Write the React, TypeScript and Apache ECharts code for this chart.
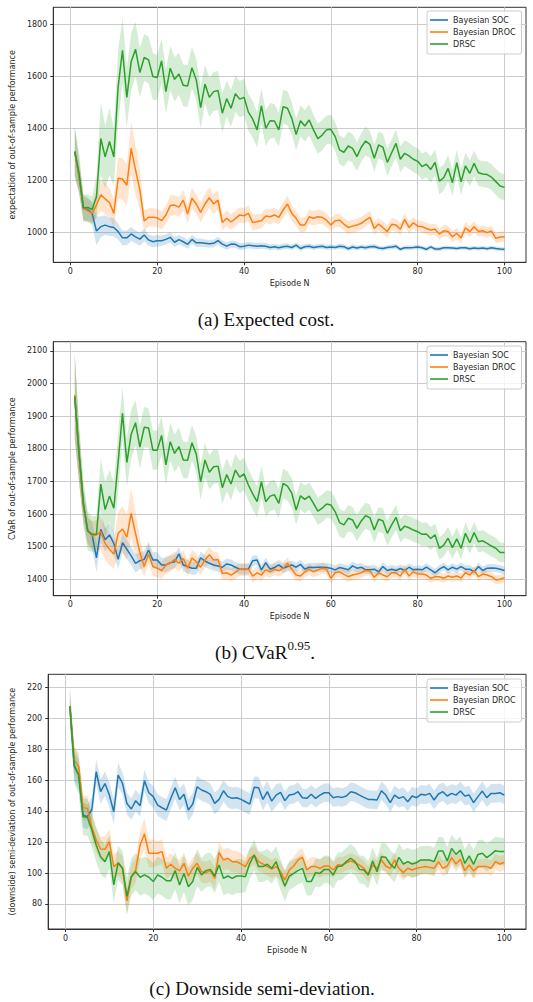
import React, { useEffect, useRef } from 'react';
import * as echarts from 'echarts';

const episodes = Array.from({ length: 100 }, (_, i) => i + 1);
const seriesNames = ['Bayesian SOC', 'Bayesian DROC', 'DRSC'];
const xTicks = [0, 20, 40, 60, 80, 100];

// (a) expected cost
const expTicks = [1000, 1200, 1400, 1600, 1800];
const expSoc = [1310,1215,1092,1088,1073,1005,1022,1028,1022,1019, 1003,979,979,994,983,974,990,971,964,968, 968,973,981,962,972,964,954,973,960,960, 958,956,958,968,955,947,955,954,945,947, 951,949,947,949,947,942,945,941,945,947, 942,951,938,945,947,942,945,947,942,944, 942,947,945,937,944,940,944,941,945,946, 940,938,942,944,947,935,941,941,942,944, 941,935,944,936,936,941,941,940,938,941, 941,937,940,938,940,937,941,938,936,935];
const expDroc = [1310,1214,1092,1083,1073,1105,1144,1129,1115,1073, 1208,1205,1181,1323,1240,1163,1044,1058,1058,1056, 1045,1067,1103,1105,1097,1124,1071,1131,1109,1077, 1109,1133,1109,1124,1038,1054,1040,1053,1067,1064, 1073,1038,1041,1045,1063,1060,1067,1058,1086,1109, 1073,1054,1028,1028,1060,1054,1060,1058,1047,1028, 1045,1047,1032,1019,1024,1028,1035,1047,1058,1015, 1032,1018,1003,1031,1028,1012,1050,1019,1037,1024, 1022,1015,1009,1012,994,1006,1003,983,996,979, 1018,1003,1022,1003,1006,999,1005,977,982,983];
const expDrsc = [1310,1227,1095,1096,1088,1137,1361,1290,1349,1290, 1560,1700,1519,1656,1704,1614,1672,1663,1599,1595, 1659,1541,1631,1588,1609,1565,1563,1633,1586,1479, 1570,1519,1541,1545,1458,1514,1477,1533,1512,1519, 1462,1435,1394,1486,1400,1429,1428,1394,1483,1477, 1438,1376,1429,1409,1432,1394,1360,1374,1394,1396, 1368,1317,1308,1332,1323,1291,1327,1351,1338,1285, 1336,1327,1269,1306,1342,1281,1304,1294,1281,1273, 1253,1262,1242,1269,1197,1210,1246,1191,1268,1194, 1256,1227,1265,1229,1224,1222,1212,1195,1178,1173];
const expSocBand = [90,60,50,45,45,55,40,38,35,35, 30,28,28,27,25,25,24,22,22,22, 20,20,20,18,18,18,17,17,16,16, 15,15,15,15,14,14,14,13,13,13, 12,12,12,12,12,11,11,11,11,11, 10,10,11,10,10,10,9,10,10,10, 9,10,10,9,10,9,9,10,9,9, 9,9,9,9,9,8,9,9,8,9, 8,9,8,8,9,8,8,8,8,8, 8,8,8,8,8,8,8,8,8,8];
const expDrocBand = [90,60,45,45,40,50,60,60,55,55, 80,80,80,100,95,75,40,35,35,35, 35,35,40,38,38,40,38,40,38,38, 40,40,38,38,30,30,30,30,30,30, 30,30,30,28,28,30,28,28,30,32, 30,28,28,28,28,28,28,26,26,26, 25,25,25,25,25,25,25,25,25,25, 24,24,24,24,24,24,24,24,22,22, 22,22,22,22,22,22,22,22,22,22, 22,22,22,20,20,20,20,20,20,20];
const expDrscBand = [100,80,50,50,50,80,140,120,130,110, 140,125,115,110,105,95,90,90,90,85, 85,85,85,85,80,80,80,80,80,80, 75,75,75,75,75,70,70,70,70,70, 70,70,68,68,68,68,65,65,65,65, 62,62,60,60,60,58,58,58,55,55, 55,55,55,55,55,55,55,55,52,52, 52,52,52,52,52,50,50,50,50,50, 50,50,50,50,50,50,50,50,50,50, 50,50,50,50,50,50,50,50,50,50];

// (b) CVaR
const cvarTicks = [1400, 1500, 1600, 1700, 1800, 1900, 2000, 2100];
const cvarSoc = [1960,1781,1628,1548,1536,1466,1553,1521,1536,1510, 1461,1512,1492,1472,1449,1457,1461,1490,1459,1459, 1444,1444,1451,1454,1478,1444,1439,1434,1434,1466, 1456,1449,1444,1441,1437,1447,1444,1437,1431,1431, 1431,1457,1459,1429,1451,1431,1436,1444,1434,1439, 1444,1437,1446,1431,1437,1436,1437,1437,1436,1434, 1429,1436,1433,1429,1441,1434,1437,1429,1429,1431, 1423,1439,1427,1431,1427,1433,1427,1437,1429,1431, 1429,1437,1429,1420,1431,1439,1429,1437,1431,1439, 1431,1431,1423,1439,1427,1434,1435,1434,1431,1427];
const cvarDroc = [1965,1776,1623,1551,1533,1536,1546,1510,1492,1477, 1541,1554,1529,1602,1541,1482,1439,1478,1439,1434, 1427,1444,1449,1461,1449,1464,1434,1465,1454,1437, 1459,1475,1459,1461,1418,1420,1413,1421,1431,1429, 1431,1410,1420,1413,1429,1423,1431,1426,1434,1449, 1431,1413,1410,1423,1431,1423,1429,1434,1431,1403, 1420,1423,1415,1408,1413,1416,1420,1427,1425,1406, 1420,1413,1408,1420,1420,1410,1431,1410,1423,1416, 1416,1413,1403,1408,1408,1403,1410,1406,1410,1404, 1420,1413,1427,1408,1416,1413,1408,1398,1400,1405];
const cvarDrsc = [1960,1786,1633,1548,1538,1539,1692,1614,1655,1618, 1760,1909,1758,1845,1880,1805,1866,1864,1796,1796, 1841,1751,1822,1786,1807,1766,1765,1819,1783,1699, 1766,1728,1745,1747,1681,1721,1692,1735,1713,1723, 1689,1662,1638,1699,1638,1655,1659,1633,1694,1686, 1664,1612,1656,1645,1655,1633,1609,1618,1631,1628, 1607,1574,1567,1587,1582,1556,1579,1595,1589,1551, 1584,1579,1541,1567,1590,1549,1563,1558,1551,1546, 1538,1539,1525,1536,1495,1505,1526,1497,1524,1495, 1541,1512,1543,1515,1518,1510,1502,1495,1482,1482];
const cvarSocBand = [130,80,50,40,40,45,40,35,35,35, 30,30,30,28,28,26,26,25,25,24, 22,22,22,21,21,20,20,20,19,19, 18,18,18,18,17,17,17,16,16,16, 16,16,15,15,15,15,15,15,15,15, 14,14,14,14,14,14,14,14,14,14, 13,13,13,13,13,13,13,13,13,13, 13,13,13,13,13,12,12,12,12,12, 12,12,12,12,12,12,12,12,12,12, 12,12,12,12,12,12,12,12,12,12];
const cvarDrocBand = [130,80,50,45,45,45,55,50,50,45, 65,70,70,75,65,45,30,30,28,28, 26,26,26,25,25,25,25,25,24,24, 24,24,24,22,20,20,20,20,20,20, 19,19,19,19,19,18,18,18,18,18, 17,17,17,17,17,17,17,16,16,16, 16,16,16,16,16,16,16,15,15,15, 15,15,15,15,15,15,15,15,15,15, 14,14,14,14,14,14,14,14,14,14, 14,14,14,14,14,14,14,14,14,14];
const cvarDrscBand = [130,90,70,60,55,55,80,85,80,80, 90,80,75,75,70,65,62,60,60,60, 60,60,58,58,58,56,56,55,55,55, 52,52,52,50,50,50,50,50,50,50, 48,48,48,48,46,46,46,45,45,45, 44,44,43,43,42,42,42,42,42,42, 42,42,42,40,40,40,40,40,40,40, 38,38,38,38,38,36,36,36,36,36, 35,35,35,35,35,35,35,34,34,34, 34,33,33,33,32,32,32,32,30,30];

// (c) downside semi-deviation
const semiTicks = [80, 100, 120, 140, 160, 180, 200, 220];
const semiSoc = [208,169,163.5,137.5,136.5,141,165.6,152.7,158,150.5, 139.7,163.5,158,145,141.5,146.9,143.6,159.8,152,149.5, 144,142.3,140.8,148.4,155.3,147.7,151,140.8,144.7,155.9, 153.8,152.7,151,145.1,147.7,153.3,149.5,148.4,148.8,147.7, 146.2,144.7,155.5,155.3,147.7,152.7,146.6,150.5,152.3,146.9, 150.5,151,152.7,148.8,148.4,151,148.4,150.5,152,152, 148.8,149.5,149,149.9,152.7,152,150.5,149,147.7,147.7, 147.3,153.3,150.5,145.6,150.5,148.4,149.5,146.2,149.9,148.8, 151,150.5,151.6,147.3,151.2,152.7,149.9,151.6,150.5,153.1, 149.9,150.5,145.6,149.5,153.1,148.8,151.6,151.6,152,150.5];
const semiDroc = [208,173,168.9,142.3,141.9,130,121.4,115.6,115.4,120.3, 104.2,106.3,103.1,82,97.7,102,118.2,125.3,112.8,112.8, 112.8,113.9,103.1,105.7,103.1,101.4,106.3,98.1,103.1,106.3, 100.9,100.3,101.6,96.6,113.2,108.5,109.6,107.4,107.4,105.9, 104.2,109.6,111.7,107.4,105.9,104.2,102.6,104.2,101,95.5, 102,104.6,108.5,110.2,102,104.2,104.2,103.1,104.6,104.6, 102,105.2,105.2,106.7,107.8,106.7,105.2,103.1,99.2,105.2, 103.1,108.5,104.6,103.1,108.5,103.1,100.3,103.1,102,103.1, 103.7,104.2,103.7,103.1,107.4,103.1,104.6,110,105.9,108.9, 101.6,105.2,101.4,104.2,104.2,104.2,103.1,107.4,105.9,107];
const semiDrsc = [208,170,163.5,136.5,136.1,127.9,118.2,110.6,107.4,113.9, 92.3,106.7,103.1,85,97.7,100.9,97.3,98.8,97.3,94.5, 98.8,97.3,95.1,95.1,101.6,92.3,99.8,91.2,94.5,103.7, 98.8,101.6,102.4,98.1,105.2,96.6,98.1,96.6,98.1,98.1, 97.7,106.3,111.7,104.2,104.2,105.7,103.1,107.4,99,91.6, 98.1,99.8,101.6,103.1,94.5,94.5,100.3,99.8,102.4,102.4, 98.8,104.2,104.6,107.4,109.6,107.4,102.4,102,98.8,107.8, 100.9,110.6,110.2,105.9,103.1,110.2,105.9,107.4,105.9,106.7, 108.5,108.5,108.5,107.4,114.3,114.3,107.8,116,112.1,114.9, 106.3,111.1,105.7,112.1,112.8,110,112.1,114.5,113.9,113.9];
const semiSocBand = [10,9,9,8,8,8,8,8,8,8, 8,8,7,7,7,7,7,7,7,7, 7,7,7,7,7,7,7,7,7,7, 7,7,7,7,7,7,7,7,7,7, 7,7,7,7,7,7,7,7,6,6, 6,6,6,6,6,6,6,6,6,6, 6,6,6,6,6,6,6,6,6,6, 6,6,6,6,6,6,6,6,6,6, 6,6,6,6,6,6,6,6,6,6, 6,6,6,6,6,6,6,6,6,6];
const semiDrocBand = [10,9,9,8,8,8,8,8,8,8, 8,8,8,9,8,8,9,10,9,9, 8,8,7,7,7,7,7,7,7,7, 7,7,7,7,7,7,7,7,7,7, 6,6,6,6,6,6,6,6,6,6, 6,6,6,6,6,6,6,6,6,6, 5,5,5,5,5,5,5,5,5,5, 5,5,5,5,5,5,5,5,5,5, 5,5,5,5,5,5,5,5,5,5, 5,5,5,5,5,5,5,5,5,5];
const semiDrscBand = [12,12,12,12,12,11,11,11,11,11, 11,11,11,12,12,12,12,12,12,12, 12,12,12,12,12,12,12,12,12,12, 11,11,11,11,11,11,11,11,11,11, 10,10,10,10,10,10,10,10,10,10, 9,9,9,9,9,9,9,9,9,9, 9,9,9,9,9,9,9,9,9,9, 9,9,9,9,9,9,9,9,9,9, 9,9,9,9,9,9,9,9,9,9, 9,9,9,9,9,9,9,9,9,9];

const COLORS = ['#1f77b4', '#ff7f0e', '#2ca02c'];
const FONT = 'DejaVu Sans';
const TXT = '#262626';

const panels = [
  { left: 46, top: 7.3, height: 255, min: 885, max: 1865, ticks: expTicks, yName: 'expectation of out-of-sample performance', means: [expSoc, expDroc, expDrsc], bands: [expSocBand, expDrocBand, expDrscBand], legendTop: 11 },
  { left: 46, top: 341.7, height: 254, min: 1349.7, max: 2128.5, ticks: cvarTicks, yName: 'CVaR of out-of-sample performance', means: [cvarSoc, cvarDroc, cvarDrsc], bands: [cvarSocBand, cvarDrocBand, cvarDrscBand], legendTop: 346 },
  { left: 40.7, top: 674.3, height: 254.7, min: 63.8, max: 228.7, ticks: semiTicks, yName: '(downside) semi-deviation of out-of-sample performance', means: [semiSoc, semiDroc, semiDrsc], bands: [semiSocBand, semiDrocBand, semiDrscBand], legendTop: 679 },
];

function bandSeries(idx: number, mean: number[], half: number[], color: string) {
  return {
    type: 'custom', coordinateSystem: 'cartesian2d', xAxisIndex: idx, yAxisIndex: idx,
    silent: true, z: 1, clip: true,
    data: [[episodes[0], mean[0]]],
    renderItem: (params: any, api: any) => {
      const upper = episodes.map((e, i) => api.coord([e, mean[i] + half[i]]));
      const lower = episodes.map((e, i) => api.coord([e, mean[i] - half[i]])).reverse();
      return {
        type: 'polygon',
        shape: { points: upper.concat(lower) },
        style: { fill: color, opacity: 0.2, stroke: 'none' },
      };
    },
  };
}

function buildOption() {
  const grid: any[] = [];
  const xAxis: any[] = [];
  const yAxis: any[] = [];
  const legend: any[] = [];
  const series: any[] = [];
  panels.forEach((p, idx) => {
    grid.push({ left: p.left, top: p.top, right: 7, height: p.height, show: true, borderColor: '#333', borderWidth: 1, containLabel: false });
    xAxis.push({
      gridIndex: idx, type: 'value', min: -3.95, max: 104.95,
      name: 'Episode N', nameLocation: 'middle', nameGap: 17,
      nameTextStyle: { fontSize: 8, color: TXT, fontFamily: FONT },
      axisLine: { show: true, onZero: false, lineStyle: { color: '#333', width: 1 } },
      axisTick: { show: true, inside: false, length: 3, customValues: xTicks, lineStyle: { color: '#333', width: 1 } },
      axisLabel: { customValues: xTicks, fontSize: 8, color: TXT, fontFamily: FONT, margin: 5, formatter: (v: number) => String(v) },
      splitLine: { show: true, lineStyle: { color: '#cccccc', width: 1 } },
    });
    yAxis.push({
      gridIndex: idx, type: 'value', min: p.min, max: p.max,
      name: p.yName, nameLocation: 'middle', nameGap: 31, nameRotate: 90,
      nameTextStyle: { fontSize: 8, color: TXT, fontFamily: FONT },
      axisLine: { show: true, onZero: false, lineStyle: { color: '#333', width: 1 } },
      axisTick: { show: true, inside: false, length: 3, customValues: p.ticks, lineStyle: { color: '#333', width: 1 } },
      axisLabel: { customValues: p.ticks, fontSize: 8, color: TXT, fontFamily: FONT, margin: 6, formatter: (v: number) => String(v) },
      splitLine: { show: true, lineStyle: { color: '#cccccc', width: 1 } },
    });
    legend.push({
      data: seriesNames, orient: 'vertical', left: 427, top: p.legendTop,
      icon: 'rect', itemWidth: 18, itemHeight: 1.6, itemGap: 2,
      textStyle: { fontSize: 8, lineHeight: 10, color: TXT, fontFamily: FONT },
      padding: [4, 6, 5, 3], borderColor: '#cccccc', borderWidth: 1, borderRadius: 2,
      backgroundColor: 'rgba(255,255,255,0.8)', selectedMode: false,
    });
    p.means.forEach((m, k) => {
      series.push(bandSeries(idx, m, p.bands[k], COLORS[k]));
    });
    p.means.forEach((m, k) => {
      series.push({
        type: 'line', name: seriesNames[k], xAxisIndex: idx, yAxisIndex: idx, symbol: 'none', z: 3,
        data: episodes.map((e, i) => [e, m[i]]),
        lineStyle: { color: COLORS[k], width: 1.5 }, itemStyle: { color: COLORS[k] },
      });
    });
  });

  const serif = 'Liberation Serif';
  const graphic = [
    { type: 'text', x: 266, y: 319, style: { text: '(a) Expected cost.', fontSize: 19, fontFamily: serif, fill: '#111', align: 'center', verticalAlign: 'middle', textAlign: 'center', textVerticalAlign: 'middle' } },
    {
      type: 'text', x: 265, y: 652, style: {
        text: '{m|(b) CVaR}{s|0.95}{m|.}', fill: '#111', align: 'center', verticalAlign: 'middle', textAlign: 'center', textVerticalAlign: 'middle',
        rich: { m: { fontSize: 19, fontFamily: serif, lineHeight: 26, fill: '#111' }, s: { fontSize: 13, fontFamily: serif, lineHeight: 13, verticalAlign: 'top', fill: '#111' } },
      },
    },
    { type: 'text', x: 262, y: 988, style: { text: '(c) Downside semi-deviation.', fontSize: 19, fontFamily: serif, fill: '#111', align: 'center', verticalAlign: 'middle', textAlign: 'center', textVerticalAlign: 'middle' } },
  ];

  return {
    animation: false,
    backgroundColor: '#ffffff',
    textStyle: { fontFamily: FONT },
    grid, xAxis, yAxis, legend, series, graphic,
  };
}

export default function App() {
  const ref = useRef<HTMLDivElement>(null);
  useEffect(() => {
    if (!ref.current) return;
    const chart = echarts.init(ref.current, undefined, { renderer: 'svg' });
    chart.setOption(buildOption() as any);
    return () => chart.dispose();
  }, []);
  return <div ref={ref} style={{ position: 'absolute', left: 0, top: 0, width: 533, height: 1002 }} />;
}
